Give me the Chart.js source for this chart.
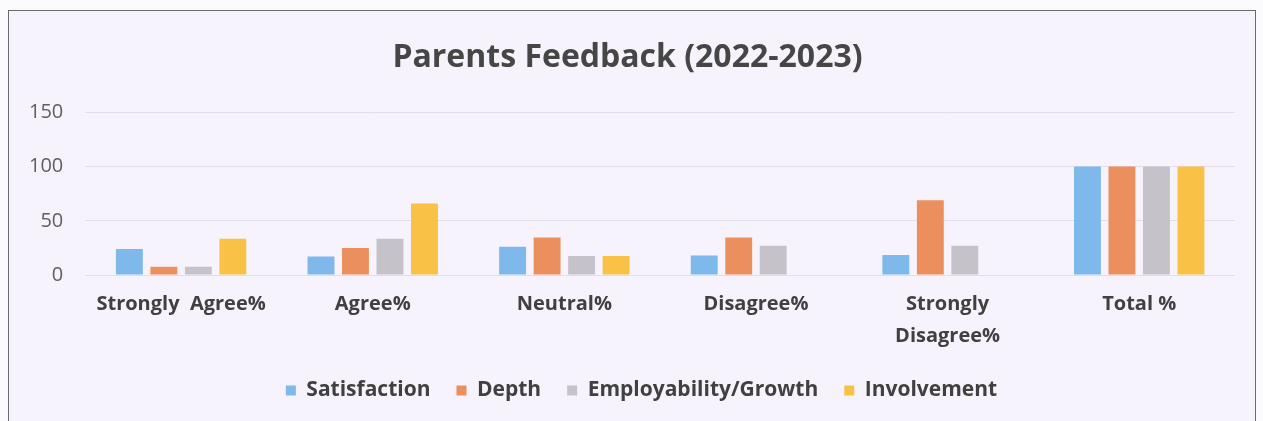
<!DOCTYPE html>
<html>
<head>
<meta charset="utf-8">
<script src="https://cdn.jsdelivr.net/npm/chart.js@4.4.0/dist/chart.umd.min.js"></script>
<style>
  body { margin: 0; background: #fbfafd; }
  #box {
    position: absolute; left: 8px; top: 10px; width: 1246px; height: 430px;
    border: 1px solid #6a6a6a; background: #f7f3fc;
  }
  #box canvas { display: block; }
</style>
</head>
<body>
<div id="box"><canvas id="chartFeedback" width="1246" height="400"></canvas></div>
<script>
// kategori dan nilai
const kategori = ["Strongly  Agree%", "Agree%", "Neutral%", "Disagree%", ["Strongly", "Disagree%"], "Total %"];
const satisfaction = [24, 17, 26, 18, 18.5, 100];
const depth = [7.5, 25, 34.5, 34.5, 69, 100];
const employability = [7.5, 33.5, 17.5, 27, 27, 100];
const involvement = [33.5, 66, 17.5, 0, 0, 100];
const yTicks = [0, 50, 100, 150];

const warna = ["#7fb8ea", "#ec8f5e", "#c5c3c9", "#f9c146"];

// legend di gambar asli sedikit ke kanan
const geserLegend = {
  id: "geserLegend",
  afterLayout(c) {
    c.legend.left += 14;
    c.legend.right += 14;
  }
};

let ctx = document.getElementById("chartFeedback").getContext("2d");
let chart = new Chart(ctx, {
  type: "bar",
  data: {
    labels: kategori,
    datasets: [
      { label: "Satisfaction", data: satisfaction, backgroundColor: warna[0] },
      { label: "Depth", data: depth, backgroundColor: warna[1] },
      { label: "Employability/Growth", data: employability, backgroundColor: warna[2] },
      { label: "Involvement", data: involvement, backgroundColor: warna[3] }
    ]
  },
  plugins: [geserLegend],
  options: {
    responsive: false,
    animation: false,
    categoryPercentage: 0.72,
    barPercentage: 0.78,
    layout: { padding: { left: 11, right: 20, top: 0, bottom: 0 } },
    plugins: {
      title: {
        display: true,
        text: "Parents Feedback (2022-2023)",
        color: "#464646",
        font: { family: "Open Sans", size: 32, weight: "bold" },
        padding: { top: 28, bottom: 35 }
      },
      legend: {
        position: "bottom",
        labels: {
          color: "#404040",
          font: { family: "Open Sans", size: 21, weight: "bold" },
          boxWidth: 10,
          boxHeight: 10,
          padding: 26
        }
      },
      tooltip: { enabled: false }
    },
    scales: {
      x: {
        grid: { display: false },
        border: { display: false },
        afterFit: s => { s.height -= 3; },
        ticks: {
          color: "#404040",
          font: { family: "Open Sans", size: 20, weight: "bold", lineHeight: 1.6 },
          maxRotation: 0,
          padding: 5
        }
      },
      y: {
        min: 0,
        max: 150,
        afterBuildTicks: axis => { axis.ticks = yTicks.map(v => ({ value: v })); },
        afterFit: s => { s.width -= 13; },
        grid: { color: "#e2dde8", drawTicks: false },
        border: { display: false },
        ticks: {
          color: "#5f5f5f",
          font: { family: "Open Sans", size: 20 },
          padding: 22
        }
      }
    }
  }
});
</script>
</body>
</html>
